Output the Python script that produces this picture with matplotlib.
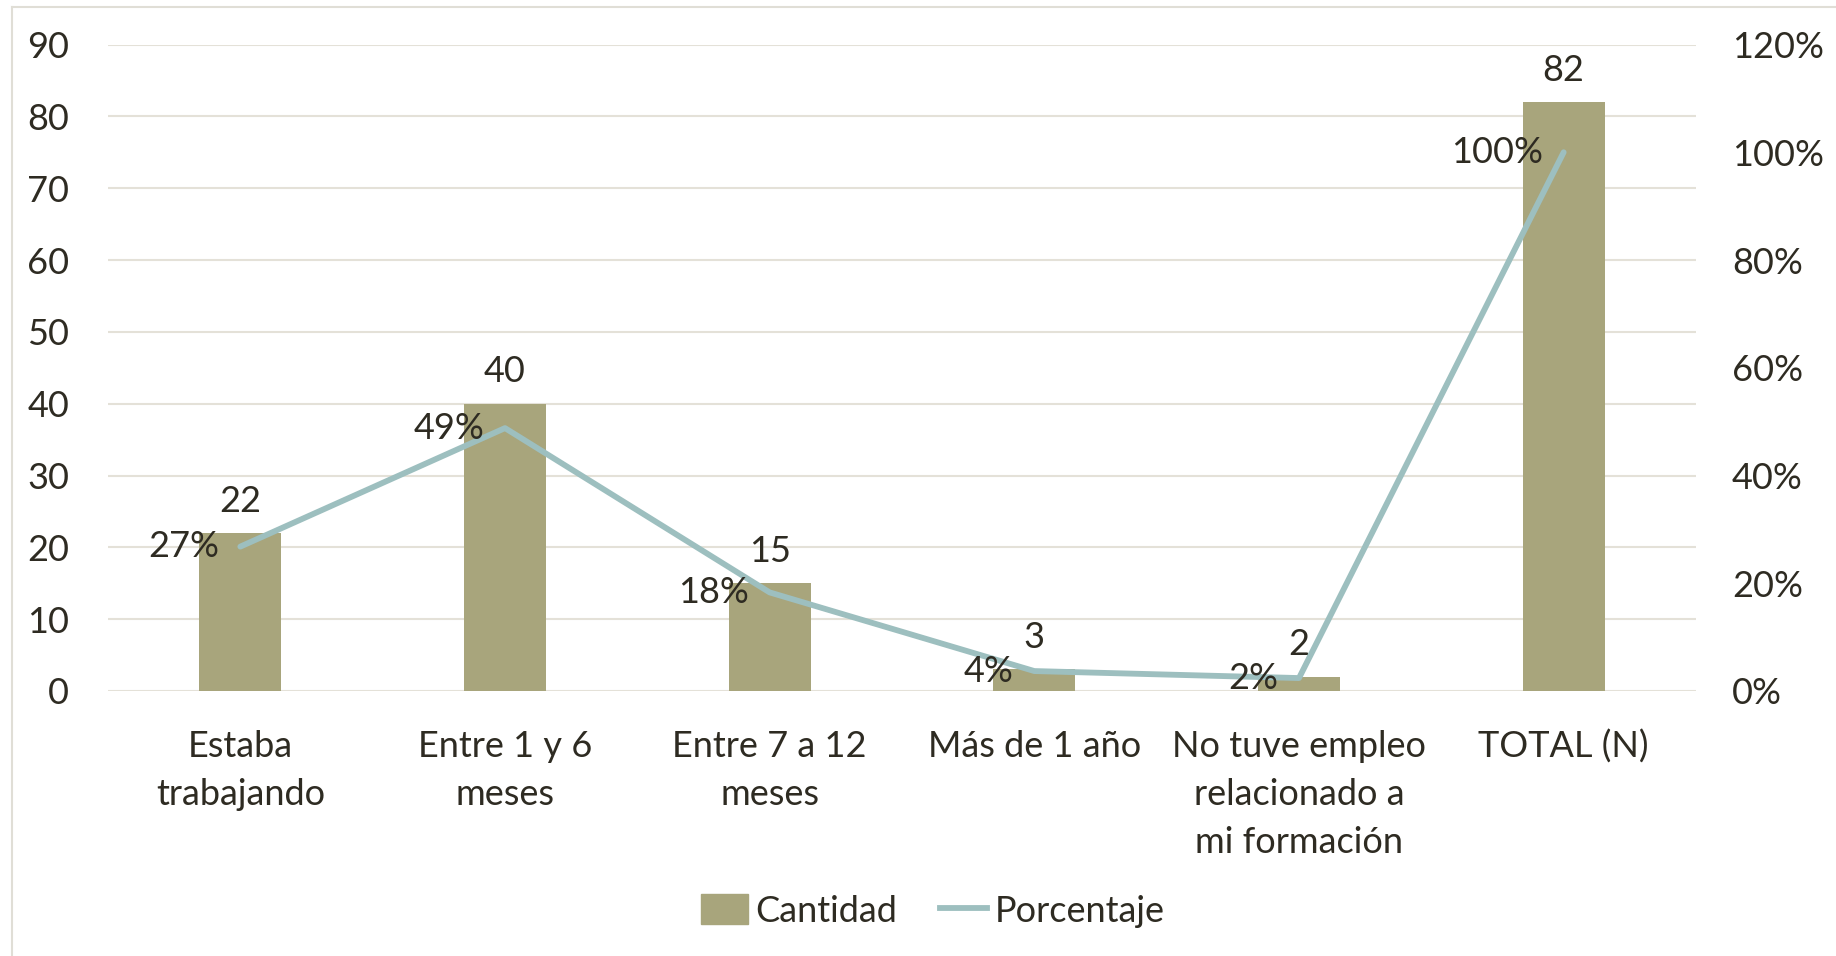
import matplotlib
matplotlib.use("Agg")
import matplotlib.pyplot as plt
from matplotlib.lines import Line2D
from matplotlib.patches import Patch

# ---- data ----
categories = ["Estaba\ntrabajando", "Entre 1 y 6\nmeses", "Entre 7 a 12\nmeses",
              "Más de 1 año", "No tuve empleo\nrelacionado a\nmi formación", "TOTAL (N)"]
cantidad = [22, 40, 15, 3, 2, 82]
porcentaje = [26.8, 48.8, 18.3, 3.7, 2.4, 100.0]
pct_labels = ["27%", "49%", "18%", "4%", "2%", "100%"]

BAR = "#A8A57C"; LINE = "#9DBFBF"; TXT = "#2E2B22"; GRID = "#E4E1D8"
plt.rcParams["font.family"] = ["Lato", "DejaVu Sans"]
FS = 26

fig = plt.figure(figsize=(18.36, 9.56), dpi=100, facecolor="white")
ax = fig.add_axes([108 / 1836, 1 - 691 / 956, (1696 - 108) / 1836, (691 - 44.5) / 956])
ax2 = ax.twinx()

x = list(range(len(categories)))
ax.bar(x, cantidad, width=0.31, color=BAR, zorder=2)
ax.set_ylim(0, 90); ax.set_xlim(-0.5, len(categories) - 0.5)
ax.set_yticks(range(0, 91, 10))
ax.yaxis.grid(True, color=GRID, lw=1.5); ax.set_axisbelow(True)
ax.set_xticks(x); ax.set_xticklabels(categories, fontsize=FS, color=TXT, linespacing=1.55)
ax.tick_params(axis="y", labelsize=FS, labelcolor=TXT, length=0, pad=28)
ax.tick_params(axis="x", length=0, pad=28)

ax2.plot(x, porcentaje, color=LINE, lw=4.2, solid_capstyle="round", solid_joinstyle="round", zorder=3)
ax2.set_ylim(0, 120); ax2.set_yticks(range(0, 121, 20))
ax2.set_yticklabels([f"{v}%" for v in range(0, 121, 20)])
ax2.tick_params(axis="y", labelsize=FS, labelcolor=TXT, length=0, pad=26)

for a in (ax, ax2):
    for s in a.spines.values(): s.set_visible(False)

for xi, v in zip(x, cantidad):
    ax.annotate(str(v), (xi, v), xytext=(0, 11), textcoords="offset points",
                ha="center", va="bottom", fontsize=FS, color=TXT, zorder=5)
for xi, p, lab in zip(x, porcentaje, pct_labels):
    ax2.annotate(lab, (xi, p), xytext=(-15, 0), textcoords="offset points",
                 ha="right", va="center", fontsize=FS, color=TXT, zorder=5)

handles = [Patch(color=BAR, label="Cantidad"), Line2D([], [], color=LINE, lw=4.2, label="Porcentaje")]
fig.legend(handles=handles, loc="center", bbox_to_anchor=(0.508, 1 - 911 / 956), ncol=2, frameon=False,
           fontsize=FS, labelcolor=TXT, handlelength=1.3, handleheight=0.9, handletextpad=0.2,
           columnspacing=1.2)

# light chart-area border (top and left edges are visible in the reference)
fig.add_artist(Line2D([12 / 1836, 1], [1 - 7 / 956] * 2, color="#E0DED6", lw=1.5))
fig.add_artist(Line2D([12 / 1836] * 2, [0, 1 - 7 / 956], color="#E0DED6", lw=1.5))

fig.savefig("out.png", dpi=100, facecolor="white")
